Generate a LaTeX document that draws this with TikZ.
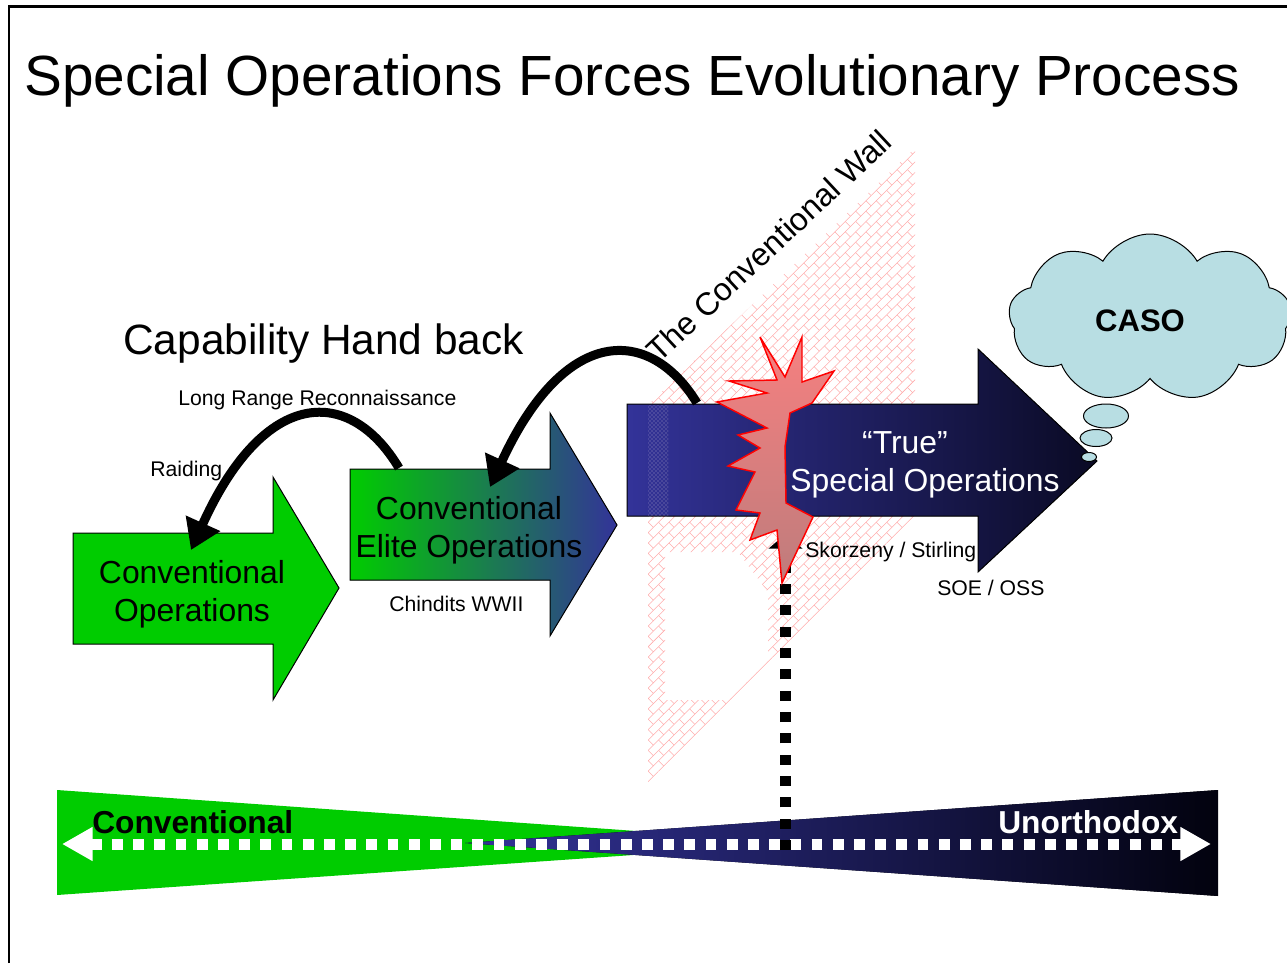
\documentclass[tikz,border=0pt]{standalone}
\usepackage{fontspec}
\setmainfont{Liberation Sans}
\usetikzlibrary{arrows.meta,shapes.symbols,shapes.geometric,patterns,patterns.meta}

\definecolor{opgreen}{RGB}{0,204,0}
\definecolor{opnavy}{RGB}{51,51,153}
\definecolor{opnavymid}{RGB}{36,36,112}
\definecolor{opdark}{RGB}{10,10,36}
\definecolor{opblack}{RGB}{2,2,14}
\definecolor{wallpink}{RGB}{255,172,172}
\definecolor{burstlight}{RGB}{246,128,128}
\definecolor{burstdark}{RGB}{190,124,124}
\definecolor{cloudblue}{RGB}{184,222,227}

% diagonal brick texture for the wall
\pgfdeclarepattern{
  name=wallbricks,
  bottom left={\pgfpoint{-0.5pt}{-0.5pt}},
  top right={\pgfpoint{11.5pt}{11.5pt}},
  tile size={\pgfpoint{11pt}{11pt}},
  tile transformation={\pgftransformrotate{45}},
  code={
    \pgfsetlinewidth{0.4pt}
    \pgfpathmoveto{\pgfpoint{0pt}{0pt}}\pgfpathlineto{\pgfpoint{11pt}{0pt}}
    \pgfpathmoveto{\pgfpoint{0pt}{5.5pt}}\pgfpathlineto{\pgfpoint{11pt}{5.5pt}}
    \pgfpathmoveto{\pgfpoint{0pt}{0pt}}\pgfpathlineto{\pgfpoint{0pt}{5.5pt}}
    \pgfpathmoveto{\pgfpoint{5.5pt}{5.5pt}}\pgfpathlineto{\pgfpoint{5.5pt}{11pt}}
    \pgfusepath{stroke}
  }
}

\begin{document}
\begin{tikzpicture}[x=0.75pt,y=-0.75pt,
  title/.style={font=\fontsize{42.5pt}{51pt}\selectfont, inner sep=0pt, anchor=base west},
  heading/.style={font=\fontsize{31.8pt}{38pt}\selectfont, inner sep=0pt, anchor=base west},
  note/.style={font=\fontsize{15.9pt}{19pt}\selectfont, inner sep=0pt, anchor=base west},
  stagetext/.style={font=\fontsize{23.9pt}{28.6pt}\selectfont, inner sep=0pt, align=center},
  stagebox/.style={draw=black, line width=0.75pt},
  handback/.style={line width=6.75pt, -{Triangle[length=22pt,width=27pt]}},
  axislabel/.style={font=\bfseries\fontsize{23.8pt}{28pt}\selectfont, inner sep=0pt, anchor=base west},
  burst/.style={draw=red, line width=1.1pt, top color=burstlight, bottom color=burstdark},
  bubble/.style={ellipse, draw=black, line width=0.75pt, fill=cloudblue, inner sep=0pt},
  whitedots/.style={draw=white, line width=8.25pt, dash pattern=on 8.2pt off 7.7pt,
    {Triangle[length=23pt,width=24pt]}-{Triangle[length=23pt,width=24pt]}},
  blackdots/.style={draw=black, line width=7.8pt, dash pattern=on 7.5pt off 8.5pt,
    -{Triangle[length=11pt,width=25pt]}},
]
\useasboundingbox (0,0) rectangle (1287,963);

% slide frame
\draw[line width=2pt] (9,963) -- (9,6.5) -- (1287,6.5);

% the wall, with its broken opening
\fill[pattern=wallbricks, pattern color=wallpink, even odd rule]
  (648,405) -- (915,148) -- (915,515) -- (648,782) -- cycle
  (665,552) -- (738,552) -- (768,592) -- (768,661) -- (729,700) -- (665,700) -- cycle;

% stage arrows
\filldraw[stagebox, fill=opgreen]
  (73,533) -- (273,533) -- (273,477) -- (339,588) -- (273,700) -- (273,644) -- (73,644) -- cycle;
\filldraw[stagebox, left color=opgreen, right color=opnavy]
  (350,469) -- (550,469) -- (550,413) -- (617,525) -- (550,636) -- (550,580) -- (350,580) -- cycle;
\filldraw[stagebox, left color=opnavy, middle color=opnavymid, right color=opdark]
  (627,404) -- (978,404) -- (978,349) -- (1097,461) -- (978,572) -- (978,516) -- (627,516) -- cycle;

% wall edge seen in front of the arrow
\fill[pattern=crosshatch dots, pattern color=white!80!wallpink, opacity=0.55]
  (648,405) rectangle (668,516);

% named anchor points for connectors
\coordinate (opsDrop) at (191,550);
\coordinate (eliteLift) at (399,468);
\coordinate (eliteDrop) at (490,487);
\coordinate (trueLift) at (697,403);
\coordinate (spanL) at (62,844);
\coordinate (spanR) at (1211,844);
\coordinate (wallFoot) at (785.5,850);
\coordinate (wallHit) at (785.5,534);

% bottom scale: conventional versus unorthodox
\fill[opgreen] (57,790) -- (57,895) -- (806,843) -- cycle;
\fill[left color=opnavy, middle color=opnavymid, right color=opblack]
  (465,843) -- (1218,790) -- (1218,896) -- cycle;
\draw[whitedots] (spanL) -- (spanR);
\node[axislabel] (convLabel) at (92,833) {Conventional};
\node[axislabel, text=white] (unorthLabel) at (998,833) {Unorthodox};

% breakthrough marker
\draw[blackdots] (wallFoot) -- (wallHit);

% the explosion where the wall is broken
\path[burst] (760,337) -- (785,377) -- (802,337) -- (802,382) -- (834,371) -- (812,403)
  -- (790,413) -- (785,447) -- (786,503) -- (813,517) -- (782,583) -- (777,530)
  -- (750,540) -- (760,513) -- (736,510) -- (755,472) -- (728,466) -- (760,448)
  -- (738,435) -- (767,428) -- (717,402) -- (767,393) -- (729,381) -- (777,380) -- cycle;

% texts
\node[title] (title) at (24,96) {Special Operations Forces Evolutionary Process};
\node[heading] (handback) at (123,354) {Capability Hand back};
\node[note] (lrr) at (178,405) {Long Range Reconnaissance};
\node[note] (raiding) at (150,476) {Raiding};
\node[note] (chindits) at (389,611) {Chindits WWII};
\node[note] (skorzeny) at (805,557) {Skorzeny / Stirling};
\node[note] (soe) at (937,595) {SOE / OSS};
\node[stagetext] (opsText) at (192,594) {Conventional\\Operations};
\node[stagetext] (eliteText) at (469,530) {Conventional\\Elite Operations};
\node[stagetext, text=white] (trueText) at (925,465) {“True”\hspace*{30pt}\\Special Operations};
\node[font=\fontsize{24pt}{28pt}\selectfont, inner sep=0pt, anchor=base west, rotate=43]
  (wallText) at (659,364) {The Conventional Wall};

% capability hand back connectors
\draw[handback] (eliteLift) .. controls (350,386) and (265,386) .. (opsDrop);
\draw[handback] (trueLift) .. controls (650,326) and (565,324) .. (eliteDrop);

% thought cloud
\node[cloud, cloud puffs=9, cloud puff arc=120, aspect=1.75, draw=black, line width=0.75pt,
  fill=cloudblue, minimum width=212pt, minimum height=126pt, inner sep=0pt] (caso) at (1150,318) {};
\node[font=\bfseries\fontsize{23.3pt}{28pt}\selectfont, inner sep=0pt] (casoText) at (1140,321) {CASO};
\node[bubble, minimum width=33.75pt, minimum height=18pt] (bubbleA) at (1106,416) {};
\node[bubble, minimum width=24pt, minimum height=12.75pt] (bubbleB) at (1096,438) {};
\node[bubble, minimum width=11.25pt, minimum height=6.75pt] (bubbleC) at (1089,457) {};
\end{tikzpicture}
\end{document}
